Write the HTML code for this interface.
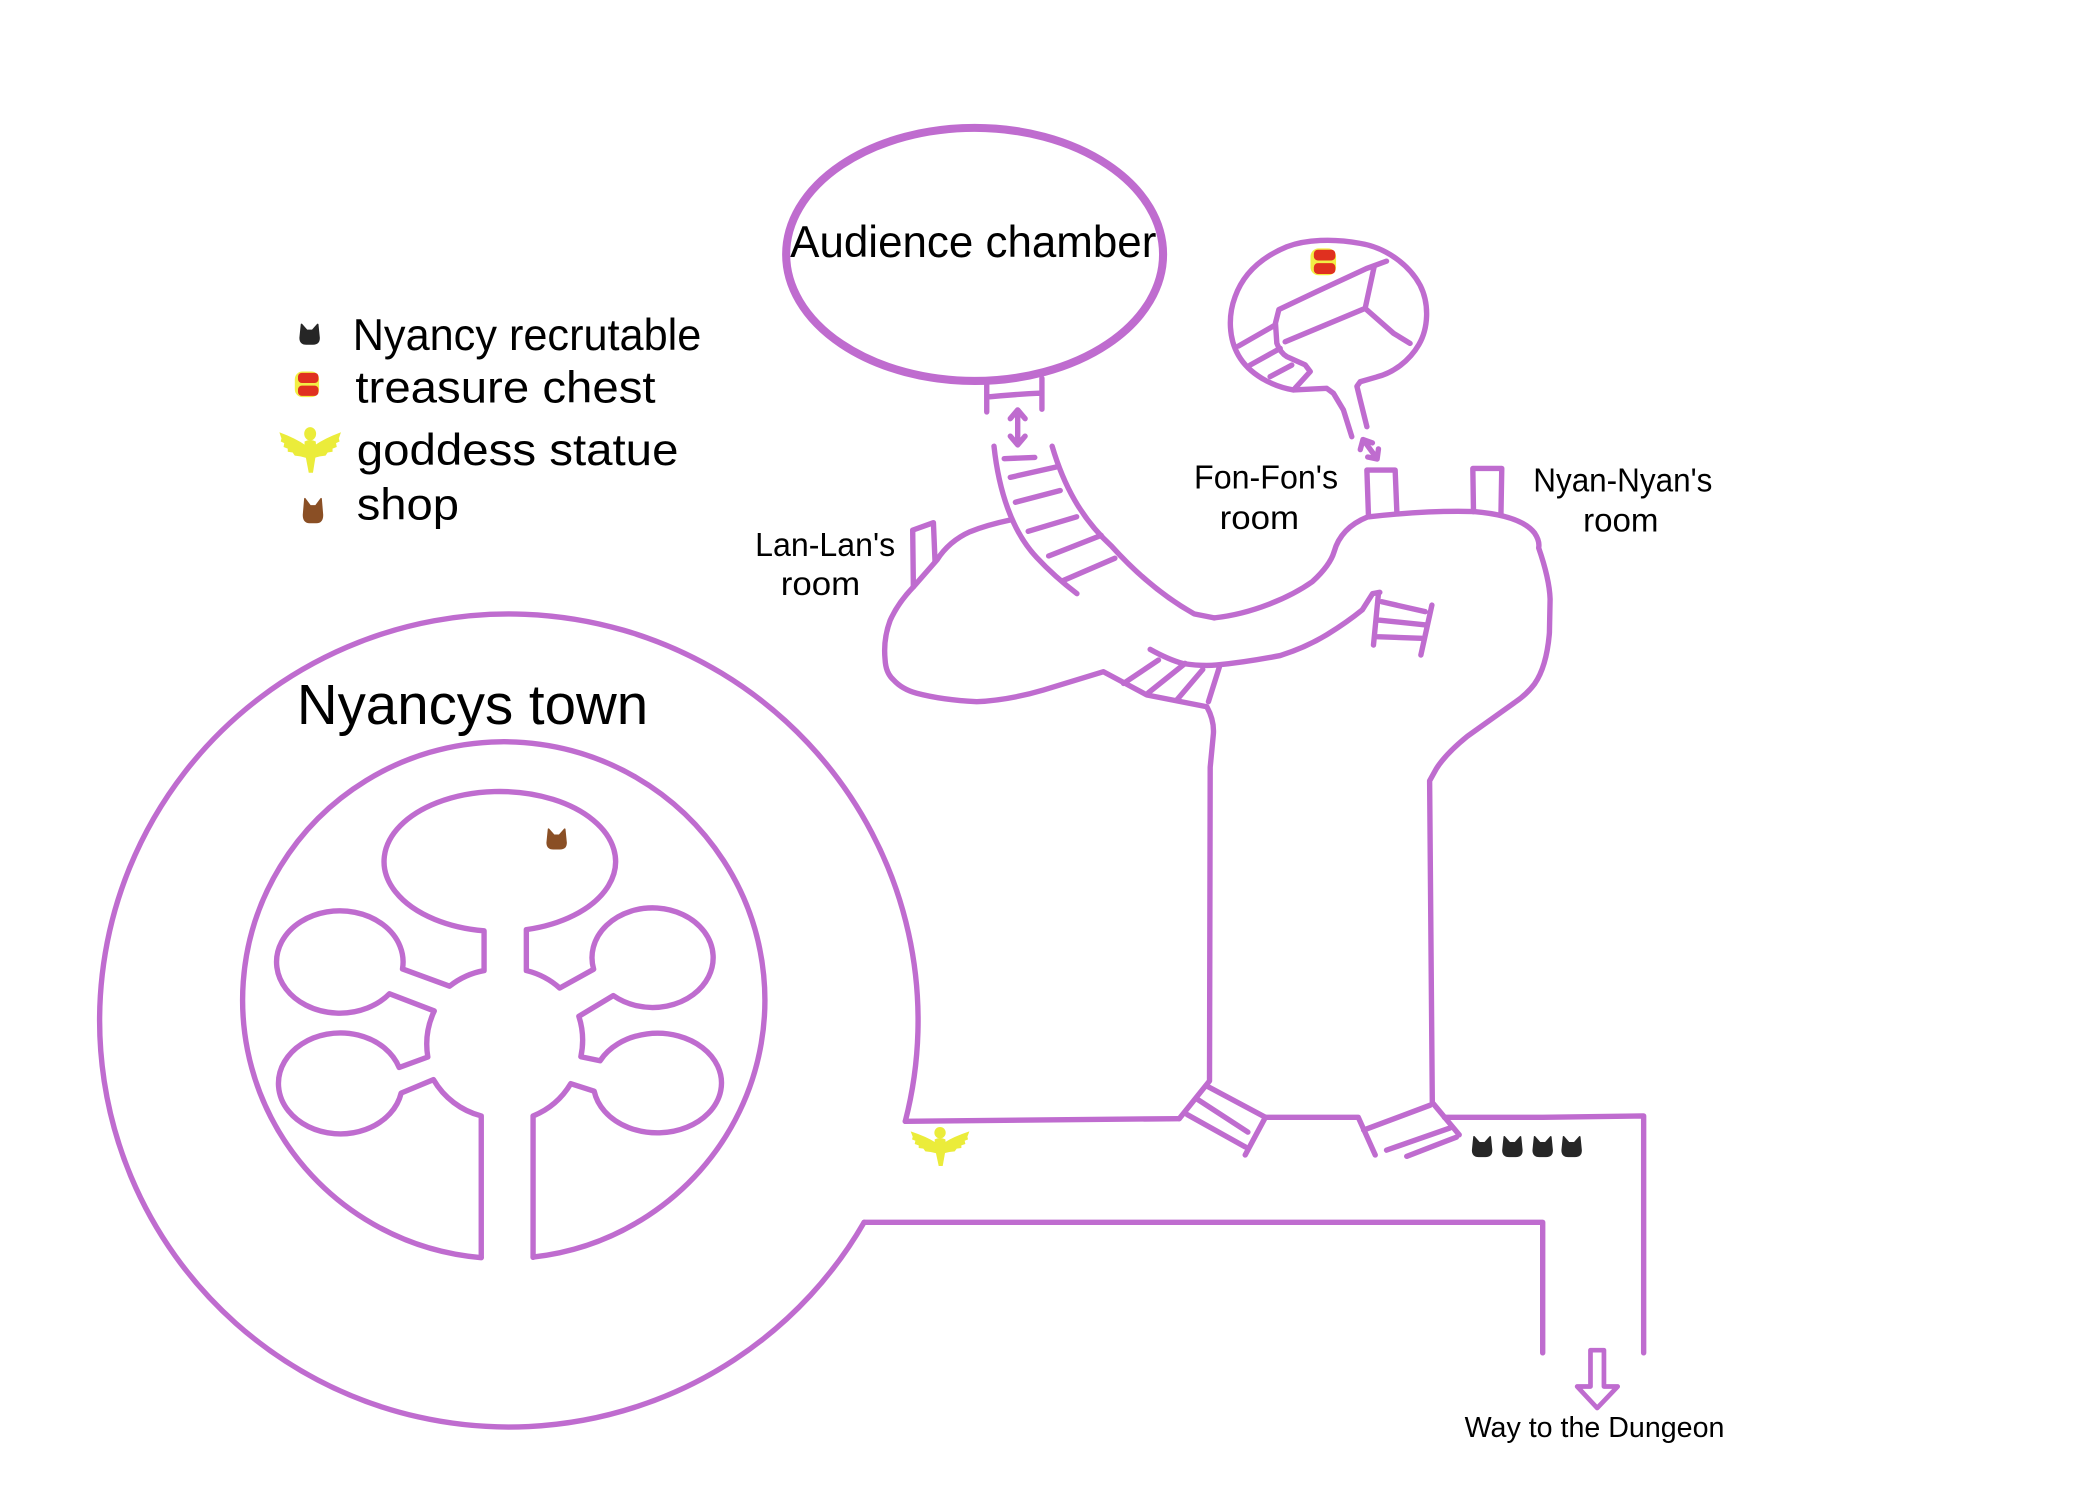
<!DOCTYPE html>
<html><head><meta charset="utf-8"><style>
html,body{margin:0;padding:0;background:#fff;}
svg{display:block;}
text{font-family:"Liberation Sans",sans-serif;fill:#000;}
</style></head><body>
<svg width="2100" height="1500" viewBox="0 0 1560 1114.3" preserveAspectRatio="none" xmlns="http://www.w3.org/2000/svg">
<defs>
<path id="cat" d="M1.5 0.5 L5.5 5 L9.5 5 L13.5 0.5 L14.5 10.5 Q14.5 15 10 15 L5 15 Q0.5 15 0.5 10.5 Z"/>
<g id="chest">
<rect x="0" y="0" width="19" height="20" rx="6" fill="#f2ee45"/>
<rect x="2.5" y="1" width="16" height="8" rx="3" fill="#e0301f"/>
<rect x="2.5" y="11" width="16" height="8" rx="3" fill="#e0301f"/>
</g>
<g id="goddess" fill="#ebec3a">
<circle cx="120" cy="68" r="17"/>
<path d="M104 88 Q120 80 136 88 L138 112 L128 168 L116 168 L104 112 Z"/>
<path d="M108 98 Q80 80 32 64 L38 80 L36 88 L46 92 L44 102 L56 106 L56 114 L70 116 L76 124 L92 126 L110 130 Z"/>
<path d="M132 98 Q160 80 208 64 L202 80 L204 88 L194 92 L196 102 L184 106 L184 114 L170 116 L164 124 L148 126 L130 130 Z"/>
</g>
</defs>

<g fill="none" stroke="#bf6ccf" stroke-width="4" stroke-linecap="round" stroke-linejoin="round">
<!-- Town -->
<path d="M641.9 908 A304 302 0 1 1 672.5 833"/>
<path d="M357.5 934.3 A194 192 0 1 1 396 933.8"/>
<path d="M357.5 934 L357.5 829 A58 58 0 0 1 322 802 L298 812 A46 37.5 0 1 1 296.5 793 L317.8 785.2 A58 58 0 0 1 322.6 751 L289.3 738.2 A47 38 0 1 1 299 719.8 L334 732.6 A58 58 0 0 1 359.6 721 L359.6 691.5 A86 52 0 1 1 391 690.6 L391 721 A58 58 0 0 1 415.8 734 L441 720 A45 37 0 1 1 455.6 739.6 L430 755 A58 58 0 0 1 431.5 785 L445.8 788 A47.6 37 0 1 1 441.4 810.6 L424 805 A58 58 0 0 1 396 829 L396 934"/>

<!-- Audience chamber -->
<ellipse cx="724" cy="189" rx="140" ry="94" stroke-width="6"/>
<path d="M733 284 L733 306 M774 281 L774 304 M733 295 Q752 293 774 292"/>
<path d="M756 305 L756 330 M750.5 311 L756 304.5 L761.5 311 M750.5 324 L756 330.5 L761.5 324"/>

<!-- passage from audience -->
<path d="M738.4 331.5 C742 365 752 395 770 414 Q783 428 800 441"/>
<path d="M781.6 331.5 C790 360 803 385 826 406 Q855 438 887 456 L902 459"/>
<path d="M746 340.7 L768.7 339.8 M750.5 354.6 L784.6 346.9 M754.3 373.1 L787.6 364.4 M763.8 394.7 L799.8 383.9 M779 413 L818 397.7 M789 431.6 L828.2 414.7"/>

<!-- upper hallway + Nyan blob -->
<path d="M902 459 C930 456 958 444 975 432 Q988 420 991 410 Q996 392 1016 384 Q1060 379 1095 380 Q1130 383 1140 396 Q1144 402 1143 407 Q1151 430 1151.5 445 L1151 470 Q1149 495 1140 508 Q1134 516 1125 522 L1090 547 Q1074 560 1067 571 L1062 580 L1064 819 L1084 843"/>
<path d="M854.4 482.4 Q868 490 879 493 Q893 495 904 494 Q925 492 951 487 Q970 481 985.5 471.6 Q1001 462 1012 453 L1019.6 441 L1025 440"/>
<path d="M1024 440.8 L1020.3 479.2 M1026.5 447 L1058.7 454.4 M1024 460.6 L1060 464.3 M1022.8 473 L1056.2 474.2 M1063.7 449.5 L1055.5 486.6"/>
<path d="M1016.6 383.9 L1015.4 349.2 L1036.4 349.2 L1037.7 381.4"/>
<path d="M1094.6 380.1 L1094.1 348 L1115.6 348 L1115 382"/>

<!-- Lan-Lan blob -->
<path d="M750.4 386.3 Q733 390 720.6 395 Q705 402 696 416 L678.5 436 Q667 448 661.2 461 Q656 475 657.5 490 Q658 500 663.7 505 Q670 512 681 515 Q700 520 725.6 521.3 Q750 520 775 512.6 L819.7 499 L852 516.3 L896.5 525 Q902 535 901.4 545 L899 570 L898.5 803 L876 831"/>
<path d="M678.5 436 L678 393.8 L693.4 388.3 L694.6 417.3"/>
<path d="M834.6 507.7 L860.6 490.3 M853.1 514.6 L880.4 492.8 M874.2 520 L893.5 497.3 M897.7 521.3 L905.9 495.3"/>

<!-- bottom corridor -->
<path d="M672.5 833 L876 831"/>
<path d="M897 807 L940 830 M888.6 816 L927 841 M882 828 L925 852 M940 830 L925 858"/>
<path d="M940 830 L1009 830 L1021.6 858"/>
<path d="M1013 839.5 L1062.4 821 M1030 854.4 L1077 838 M1045 859 L1082 844.7"/>
<path d="M1073 830 L1146 830 L1221 829 L1221 1005"/>
<path d="M641.9 908 L1146 908 L1146 1005"/>
<path d="M1181.5 1003 L1191.5 1003 L1191.5 1030 L1201.7 1030 L1186.5 1046 L1171.6 1030 L1181.5 1030 Z" stroke-width="3.5"/>

<!-- small round room -->
<path d="M960.9 289.7 C945 287 928 278 920 264 C913 252 912 235 917.5 220.4 C923 205 935 192 955.9 183.3 C970 178 990 177 1010.4 180.8 C1030 184 1047 197 1055 212 C1062 226 1061 244 1054 256 C1047 268 1035 277 1022.8 280 L1010.4 283.6 L1008 287 L1010.4 297 L1015.4 317"/>
<path d="M960.9 289.7 L985.6 288.5 L990.6 292.2 L998 304.6 L1004.2 324.4"/>
<path d="M1030 194 L1015 199.5 L978 216.7 L950 230 L947.5 240 L948.5 255 Q951 262 956 265 L969.5 271 L973.3 276 L962 288.5"/>
<path d="M1020.8 198.1 L1014.1 229.1 L1035.2 247.6 L1047.5 255.1 M1014.1 229.1 L954.7 253.9"/>
<path d="M920 257.1 L947.2 241.5 M928.7 271.2 L951 258.8 M943.5 279.8 L959.6 271.2"/>
<path d="M1012.9 326.9 L1022.8 340.5 M1010.5 334 L1012.5 326.5 L1019.5 329 M1016 339.5 L1023 341 L1024 333.5"/>
</g>

<!-- icons -->
<use href="#chest" transform="translate(973.5,184.5)"/>
<use href="#chest" transform="translate(219,276) scale(0.95)"/>
<use href="#goddess" transform="translate(199.2,302.5) scale(0.26,0.29)"/>
<use href="#goddess" transform="translate(668.6,824.6) scale(0.2476)"/>
<g fill="#262626" stroke="#262626" stroke-width="1.2" stroke-linejoin="round">
<use href="#cat" transform="translate(222.5,240.5)"/>
<use href="#cat" transform="translate(1093.5,844)"/>
<use href="#cat" transform="translate(1116,844)"/>
<use href="#cat" transform="translate(1138.5,844)"/>
<use href="#cat" transform="translate(1160,844)"/>
</g>
<g fill="#8a4f25" stroke="#8a4f25" stroke-width="1.2" stroke-linejoin="round">
<use href="#cat" transform="translate(225,370) scale(1,1.2)"/>
<use href="#cat" transform="translate(406,615.5)"/>
</g>

<!-- text -->
<text x="262" y="260" font-size="33" textLength="259" lengthAdjust="spacingAndGlyphs">Nyancy recrutable</text>
<text x="264" y="299" font-size="33" textLength="223" lengthAdjust="spacingAndGlyphs">treasure chest</text>
<text x="265" y="345.5" font-size="33" textLength="239" lengthAdjust="spacingAndGlyphs">goddess statue</text>
<text x="265" y="386" font-size="33" textLength="76" lengthAdjust="spacingAndGlyphs">shop</text>
<text x="587" y="191" font-size="33" textLength="272" lengthAdjust="spacingAndGlyphs">Audience chamber</text>
<text x="220.5" y="538" font-size="42" textLength="261" lengthAdjust="spacingAndGlyphs">Nyancys town</text>
<text x="561" y="413" font-size="25" textLength="104" lengthAdjust="spacingAndGlyphs">Lan-Lan's</text>
<text x="580" y="442" font-size="25" textLength="59" lengthAdjust="spacingAndGlyphs">room</text>
<text x="887" y="363" font-size="25" textLength="107" lengthAdjust="spacingAndGlyphs">Fon-Fon's</text>
<text x="906" y="393" font-size="25" textLength="59" lengthAdjust="spacingAndGlyphs">room</text>
<text x="1139" y="365" font-size="25" textLength="133" lengthAdjust="spacingAndGlyphs">Nyan-Nyan's</text>
<text x="1176" y="395" font-size="25" textLength="56" lengthAdjust="spacingAndGlyphs">room</text>
<text x="1088" y="1067.5" font-size="21" textLength="193" lengthAdjust="spacingAndGlyphs">Way to the Dungeon</text>
</svg>
</body></html>
